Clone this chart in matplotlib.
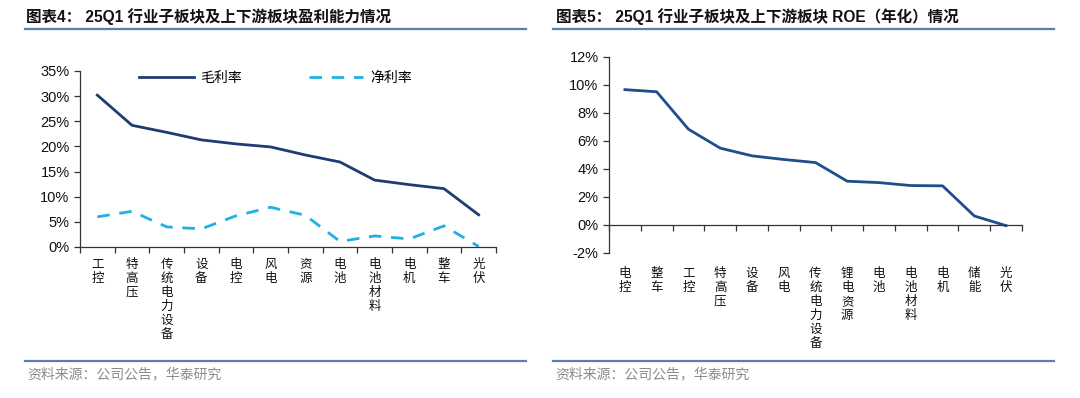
import matplotlib
matplotlib.use('Agg')
import matplotlib.pyplot as plt
from matplotlib.lines import Line2D
import numpy as np

plt.rcParams['font.family'] = ['Liberation Sans', 'Noto Sans CJK SC', 'DejaVu Sans']

# 图表4 数据
cats4 = ['工控', '特高压', '传统电力设备', '设备', '电控', '风电', '资源',
         '电池', '电池材料', '电机', '整车', '光伏']
gross = [30.2, 24.2, 22.8, 21.3, 20.5, 19.9, 18.3, 16.9, 13.3, 12.4, 11.6, 6.4]
net = [6.0, 7.1, 4.0, 3.6, 6.2, 7.9, 6.3, 1.1, 2.2, 1.6, 4.2, 0.1]

# 图表5 数据
cats5 = ['电控', '整车', '工控', '特高压', '设备', '风电', '传统电力设备',
         '锂电资源', '电池', '电池材料', '电机', '储能', '光伏']
roe = [9.65, 9.5, 6.83, 5.48, 4.93, 4.67, 4.45, 3.12, 3.02, 2.81, 2.79, 0.64, -0.05]

navy = '#1f3b73'
light = '#1fb1e6'
rule = '#5b7db3'
W, H = 1080, 398

fig = plt.figure(figsize=(W / 100, H / 100), dpi=100)


def fx(px):
    return px / W


def fy(py):
    return 1 - py / H


# 标题与分隔线
title_font = ['Liberation Sans', 'Noto Sans CJK SC']
fig.text(fx(26), fy(17), '图表4： 25Q1 行业子板块及上下游板块盈利能力情况', fontsize=11.2,
         fontweight='bold', family=title_font, va='center', ha='left', color='#111111')
fig.text(fx(556), fy(17), '图表5： 25Q1 行业子板块及上下游板块 ROE（年化）情况', fontsize=11.2,
         fontweight='bold', family=title_font, va='center', ha='left', color='#111111')
for x0, x1 in [(25, 526), (553, 1054)]:
    for yy in (28.5, 361):
        fig.add_artist(Line2D([fx(x0), fx(x1)], [fy(yy), fy(yy)], color=rule, lw=1.6,
                              transform=fig.transFigure))
    fig.text(fx(x0 + 2), fy(374), '资料来源：公司公告，华泰研究', fontsize=10,
             color='#8c8c8c', family=['Noto Sans CJK SC'], va='center', ha='left')


def vlabels(ax, cats, ypos):
    for i, c in enumerate(cats):
        ax.text(i, ypos, '\n'.join(c), transform=ax.get_xaxis_transform(),
                ha='center', va='top', fontsize=9, linespacing=1.1,
                family=['Noto Sans CJK SC'], color='#111111')


def style(ax):
    for s in ['top', 'right']:
        ax.spines[s].set_visible(False)
    for s in ['left', 'bottom']:
        ax.spines[s].set_color('#333333')
        ax.spines[s].set_linewidth(0.9)
    ax.tick_params(axis='both', direction='out', length=4, width=0.9, color='#333333',
                   labelsize=10.5, labelcolor='#111111')


# 左图
ax1 = fig.add_axes([fx(80), fy(247), fx(496 - 80), (247 - 71) / H])
x4 = np.arange(len(cats4))
ax1.plot(x4, gross, color=navy, lw=2, label='毛利率')
ax1.plot(x4, net, color=light, lw=2, dashes=(4.5, 3.5), label='净利率')
ax1.set_xlim(-0.5, len(cats4) - 0.5)
ax1.set_ylim(0, 35)
ax1.set_yticks(np.arange(0, 36, 5))
ax1.set_yticklabels([f'{v}%' for v in range(0, 36, 5)])
ax1.set_xticks(np.arange(-0.5, len(cats4), 1))
ax1.set_xticklabels([])
style(ax1)
vlabels(ax1, cats4, -0.06)
leg = ax1.legend(loc='upper center', bbox_to_anchor=(0.47, 1.07), ncol=2, frameon=False,
                 handlelength=3.9, columnspacing=4.8, handletextpad=0.5,
                 prop={'family': 'Noto Sans CJK SC', 'size': 10})

# 右图
ax2 = fig.add_axes([fx(609), fy(253), fx(1022 - 609), (253 - 56.7) / H])
x5 = np.arange(len(cats5))
ax2.plot(x5, roe, color='#1f4e8c', lw=2)
ax2.set_xlim(-0.5, len(cats5) - 0.5)
ax2.set_ylim(-2, 12)
ax2.set_yticks(np.arange(-2, 13, 2))
ax2.set_yticklabels([f'{v}%' for v in range(-2, 13, 2)])
ax2.set_xticks(np.arange(-0.5, len(cats5), 1))
ax2.set_xticklabels([])
style(ax2)
ax2.spines['bottom'].set_position(('data', 0))
vlabels(ax2, cats5, -0.07)

fig.savefig('out.png', dpi=100)
